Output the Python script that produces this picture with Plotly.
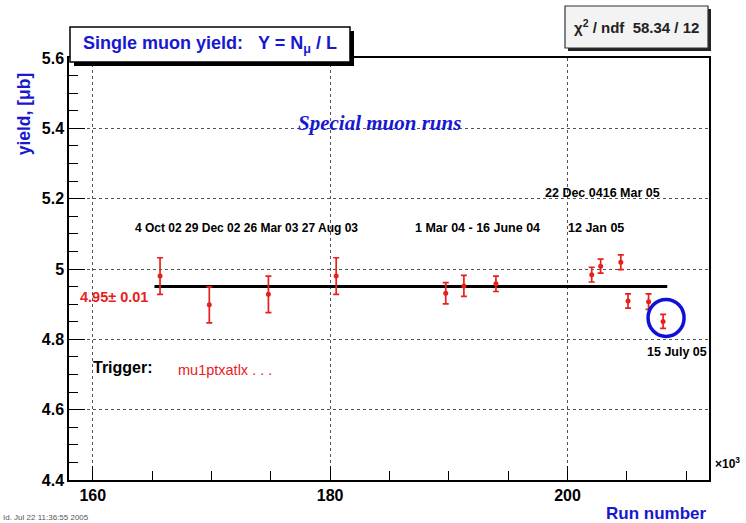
import plotly.graph_objects as go

# Run numbers (in units of 10^3) and measured single-muon yields [μb]
run_k = [165.67, 169.82, 174.80, 180.51, 189.74, 191.27, 193.97,
         202.04, 202.79, 204.49, 205.10, 206.83, 208.05]
yield_ub = [4.980, 4.898, 4.928, 4.980, 4.931, 4.952, 4.958,
            4.984, 5.008, 5.019, 4.909, 4.907, 4.851]
yield_err = [0.052, 0.051, 0.052, 0.052, 0.030, 0.030, 0.022,
             0.021, 0.020, 0.021, 0.020, 0.022, 0.020]

# Constant fit over the run range
fit_value = 4.95
fit_error = 0.01
fit_range = [165.2, 208.4]
chi2, ndf = 58.34, 12

x_ticks = [160, 180, 200]
y_ticks = [4.4, 4.6, 4.8, 5.0, 5.2, 5.4, 5.6]

W, H = 746, 523
L, R, T, B = 69, 37, 58, 43
PW, PH = W - L - R, H - T - B

BLUE = "#1818d0"
RED = "#e8201c"
SANS = "Liberation Sans, Arial, Helvetica, sans-serif"
SERIF = "Liberation Serif, Times New Roman, serif"


def px(x):
    return (x - L) / PW


def py(y):
    return (H - B - y) / PH


fig = go.Figure()

fig.add_trace(go.Scatter(
    x=fit_range, y=[fit_value, fit_value], mode="lines",
    line=dict(color="black", width=3), hoverinfo="skip", showlegend=False))

fig.add_trace(go.Scatter(
    x=run_k, y=yield_ub, mode="markers",
    marker=dict(color=RED, size=5),
    error_y=dict(type="data", array=yield_err, color=RED, thickness=1.7, width=3),
    showlegend=False))


def label(x, y, text, size=12.5, color="black", family=SANS, weight=700,
          style="normal", xanchor="left"):
    fig.add_annotation(x=px(x), y=py(y), xref="paper", yref="paper", text=text,
                       showarrow=False, xanchor=xanchor, yanchor="middle",
                       font=dict(family=family, size=size, color=color,
                                 weight=weight, style=style))


# Date labels of the run periods
label(133, 228, "4 Oct 02 29 Dec 02 26 Mar 03 27 Aug 03", size=12)
label(413, 228, "1 Mar 04 - 16 June 04")
label(566, 228, "12 Jan 05")
label(543, 193, "22 Dec 0416 Mar 05")
label(645, 352, "15 July 05")

label(379, 123, "Special muon runs", size=21, color=BLUE, family=SERIF,
      style="italic", xanchor="center")
label(78, 297, f"{fit_value:.2f}\u00b1 {fit_error:.2f}", size=14.5, color=RED)
label(91, 368, "Trigger:", size=16)
label(176, 370, "mu1ptxatlx . . .", size=14.5, color=RED, weight=400)

# Axis titles and exponent
label(708, 513, "Run number", size=17, color=BLUE, xanchor="right")
label(713, 463, "\u00d710<sup>3</sup>", size=12)
label(1, 517, "Id. Jul 22 11:36:55 2005", size=8, color="#555555", weight=400)

# Boxes: title and fit statistics; y-axis title carried by an invisible line
shapes = [
    dict(type="line", xref="paper", yref="paper", layer="above",
         x0=px(22), x1=px(22), y0=py(180), y1=py(48),
         line=dict(color="rgba(0,0,0,0)", width=0),
         label=dict(text="<b>yield, [\u03bcb]</b>", textangle=-90,
                    textposition="middle", xanchor="center", yanchor="middle",
                    padding=0,
                    font=dict(family=SANS, size=17.5, color=BLUE))),
    dict(type="rect", xref="paper", yref="paper", layer="above",
         x0=px(74), x1=px(354), y0=py(31), y1=py(66),
         fillcolor="black", line=dict(width=0)),
    dict(type="rect", xref="paper", yref="paper", layer="above",
         x0=px(70), x1=px(350), y0=py(27), y1=py(62),
         fillcolor="white", line=dict(color="black", width=1.5)),
    dict(type="rect", xref="paper", yref="paper", layer="above",
         x0=px(568), x1=px(711), y0=py(9), y1=py(51),
         fillcolor="#222222", line=dict(width=0)),
    dict(type="rect", xref="paper", yref="paper", layer="above",
         x0=px(565), x1=px(708), y0=py(6), y1=py(48),
         fillcolor="#f3f3f3", line=dict(color="#333333", width=1.2)),
    # Highlight of the last run
    dict(type="circle", xref="x", yref="y", layer="above",
         xsizemode="pixel", ysizemode="pixel",
         xanchor=run_k[-1], yanchor=yield_ub[-1],
         x0=-15, x1=21, y0=-15, y1=22,
         line=dict(color="#1010d8", width=3.5)),
]
fig.update_layout(shapes=shapes)

fig.add_annotation(x=px(210), y=py(44), xref="paper", yref="paper",
                   text="Single muon yield:\u00a0\u00a0\u00a0Y = N<sub>\u03bc</sub> / L",
                   showarrow=False, xanchor="center", yanchor="middle",
                   font=dict(family=SANS, size=18, color=BLUE, weight=700))
fig.add_annotation(x=px(636), y=py(27), xref="paper", yref="paper",
                   text=f"\u03c7<sup>2</sup> / ndf\u00a0\u00a0{chi2:.2f} / {ndf}",
                   showarrow=False, xanchor="center", yanchor="middle",
                   font=dict(family=SANS, size=15, color="#222222", weight=700))

axis_common = dict(
    showline=True, linecolor="black", linewidth=1.5, mirror=True,
    ticks="inside", tickcolor="black", tickwidth=1.2,
    showgrid=True, gridcolor="#555555", griddash="dot", gridwidth=1,
    zeroline=False,
    tickfont=dict(family=SANS, size=16, color="black", weight=700),
)

fig.update_xaxes(range=[158.0, 211.92], tickvals=x_ticks,
                 ticktext=[str(v) for v in x_ticks], ticklen=14,
                 minor=dict(dtick=5, tick0=160, ticks="inside", ticklen=9,
                            tickcolor="black", showgrid=False),
                 **axis_common)
fig.update_yaxes(range=[4.4, 5.6], tickvals=y_ticks,
                 ticktext=["4.4", "4.6", "4.8", "5", "5.2", "5.4", "5.6"],
                 ticklen=16,
                 minor=dict(dtick=0.05, tick0=4.4, ticks="inside", ticklen=9,
                            tickcolor="black", showgrid=False),
                 **axis_common)

fig.update_layout(
    width=W, height=H,
    margin=dict(l=L, r=R, t=T, b=B),
    plot_bgcolor="white", paper_bgcolor="white",
)

fig.write_html("out.html")
